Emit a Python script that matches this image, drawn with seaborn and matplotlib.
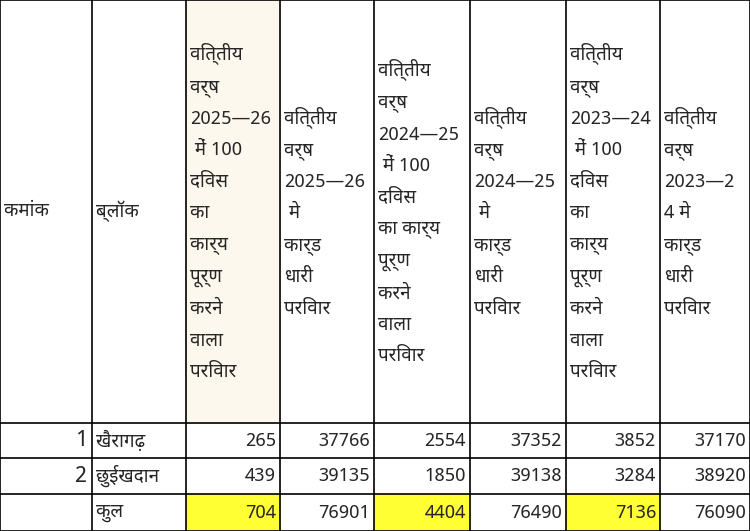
import matplotlib
matplotlib.use("Agg")
import matplotlib.pyplot as plt
import seaborn as sns
from matplotlib.patches import Rectangle
from matplotlib import font_manager

sns.set_theme(style="white")
fams = [f.name for f in font_manager.fontManager.ttflist]
cands = ['Noto Sans Devanagari', 'Lohit Devanagari', 'Mukta', 'FreeSans', 'Noto Sans', 'DejaVu Sans']
plt.rcParams['font.family'] = [c for c in cands if c in fams] or ['DejaVu Sans']

headers = [
    "कमांक", "ब्लॉक",
    "वित्तीय\nवर्ष\n2025—26\n में 100\nदिवस\nका\nकार्य\nपूर्ण\nकरने\nवाला\nपरिवार",
    "वित्तीय\nवर्ष\n2025—26\n मे\nकार्ड\nधारी\nपरिवार",
    "वित्तीय\nवर्ष\n2024—25\n में 100\nदिवस\nका कार्य\nपूर्ण\nकरने\nवाला\nपरिवार",
    "वित्तीय\nवर्ष\n2024—25\n मे\nकार्ड\nधारी\nपरिवार",
    "वित्तीय\nवर्ष\n2023—24\n में 100\nदिवस\nका\nकार्य\nपूर्ण\nकरने\nवाला\nपरिवार",
    "वित्तीय\nवर्ष\n2023—2\n4 मे\nकार्ड\nधारी\nपरिवार",
]
serial = ["1", "2", ""]
blocks = ["खैरागढ़", "छुईखदान", "कुल"]
v100_2526 = [265, 439, 704]
card_2526 = [37766, 39135, 76901]
v100_2425 = [2554, 1850, 4404]
card_2425 = [37352, 39138, 76490]
v100_2324 = [3852, 3284, 7136]
card_2324 = [37170, 38920, 76090]

col_edges = [0, 92, 186, 280, 374, 470, 566, 660, 750]
row_edges = [0, 423, 458, 494, 531]

fig = plt.figure(figsize=(7.5, 5.31), dpi=100)
ax = fig.add_axes([0, 0, 1, 1])
ax.set_xlim(0, 750)
ax.set_ylim(531, 0)
ax.axis("off")

ax.add_patch(Rectangle((186, 0), 94, 423, color="#fdf8ee", zorder=0))
for c in (2, 4, 6):
    ax.add_patch(Rectangle((col_edges[c], row_edges[3]), col_edges[c+1]-col_edges[c],
                           row_edges[4]-row_edges[3], color="#ffff33", zorder=0))

for x in col_edges:
    ax.plot([x, x], [0, 531], color="black", lw=1.2, zorder=2)
for y in row_edges:
    ax.plot([0, 750], [y, y], color="black", lw=1.2, zorder=2)

fs = 13.5
for i, h in enumerate(headers):
    ax.text(col_edges[i] + 4, row_edges[1] / 2, h, ha="left", va="center",
            fontsize=fs, fontweight="bold", linespacing=1.95)

cols = [v100_2526, card_2526, v100_2425, card_2425, v100_2324, card_2324]
for r in range(3):
    yc = (row_edges[r+1] + row_edges[r+2]) / 2
    if serial[r]:
        ax.text(col_edges[1] - 5, yc, serial[r], ha="right", va="center",
                fontsize=16, fontweight="bold")
    ax.text(col_edges[1] + 4, yc, blocks[r], ha="left", va="center",
            fontsize=fs, fontweight="bold")
    for j, vals in enumerate(cols):
        ax.text(col_edges[j+3] - 4, yc, str(vals[r]), ha="right", va="center",
                fontsize=fs, fontweight="bold")

fig.savefig("out.png", dpi=100)
